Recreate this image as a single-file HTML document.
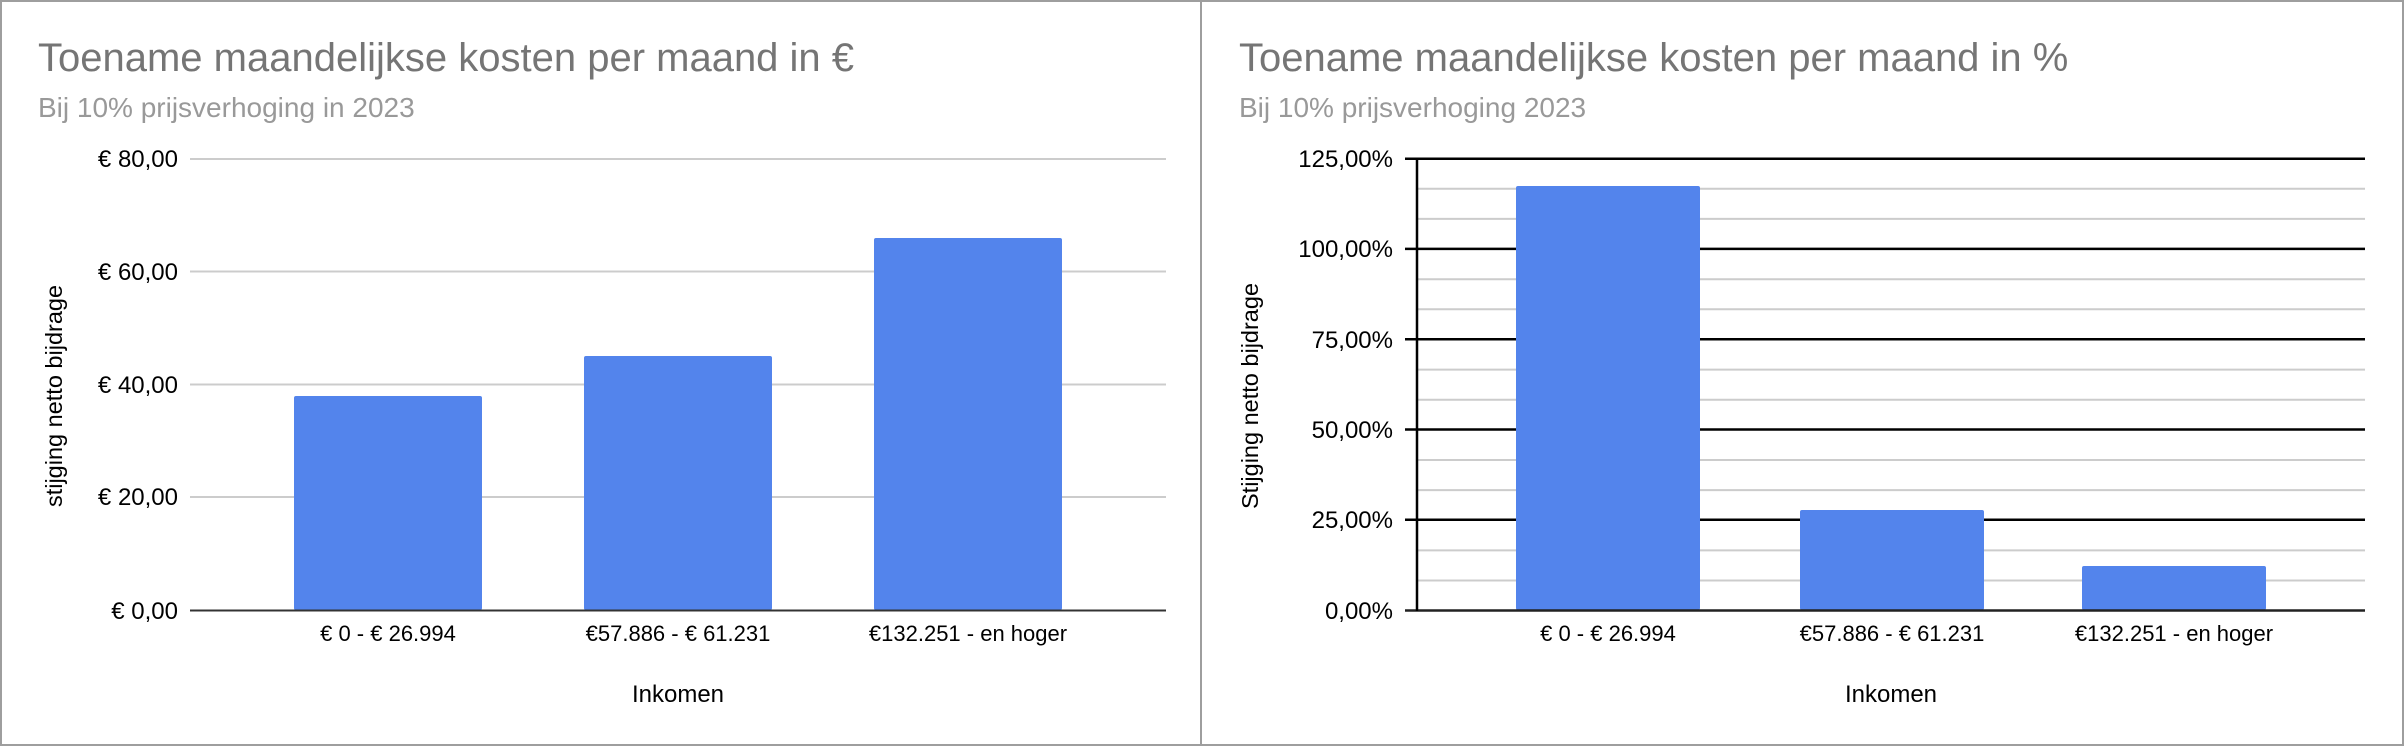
<!DOCTYPE html>
<html><head><meta charset="utf-8"><style>
html,body{margin:0;padding:0;background:#fff}
svg{display:block}
text{font-family:"Liberation Sans",Arial,sans-serif}
</style></head><body>
<svg width="2404" height="746" viewBox="0 0 2404 746" xmlns="http://www.w3.org/2000/svg">
<rect x="1" y="1" width="2402" height="744" fill="#fff" stroke="#9e9e9e" stroke-width="2"/>
<line x1="1201" y1="0" x2="1201" y2="746" stroke="#9e9e9e" stroke-width="2"/>

<!-- LEFT CHART -->
<text x="38" y="71" font-size="40" fill="#757575">Toename maandelijkse kosten per maand in €</text>
<text x="38" y="117" font-size="28" fill="#999">Bij 10% prijsverhoging in 2023</text>
<g stroke="#cccccc" stroke-width="2">
<line x1="190" y1="159" x2="1166" y2="159"/>
<line x1="190" y1="271.5" x2="1166" y2="271.5"/>
<line x1="190" y1="384.5" x2="1166" y2="384.5"/>
<line x1="190" y1="497" x2="1166" y2="497"/>
</g>
<g fill="#5384ec">
<rect x="294" y="396" width="188" height="214" rx="2"/>
<rect x="584" y="356" width="188" height="254" rx="2"/>
<rect x="874" y="238" width="188" height="372" rx="2"/>
</g>
<line x1="190" y1="610.5" x2="1166" y2="610.5" stroke="#333" stroke-width="2"/>
<g font-size="24" fill="#000" text-anchor="end">
<text x="178" y="167">€ 80,00</text>
<text x="178" y="280">€ 60,00</text>
<text x="178" y="393">€ 40,00</text>
<text x="178" y="505">€ 20,00</text>
<text x="178" y="619">€ 0,00</text>
</g>
<g font-size="22" fill="#000" text-anchor="middle">
<text x="388" y="641">€ 0 - € 26.994</text>
<text x="678" y="641">€57.886 - € 61.231</text>
<text x="968" y="641">€132.251 - en hoger</text>
</g>
<text x="678" y="702" font-size="24" fill="#000" text-anchor="middle">Inkomen</text>
<text transform="translate(62,396) rotate(-90)" font-size="23.5" fill="#000" text-anchor="middle">stijging netto bijdrage</text>

<!-- RIGHT CHART -->
<text x="1239" y="71" font-size="40" fill="#757575">Toename maandelijkse kosten per maand in %</text>
<text x="1239" y="117" font-size="28" fill="#999">Bij 10% prijsverhoging 2023</text>
<g stroke="#cccccc" stroke-width="2">
<line x1="1417" y1="188.8" x2="2365" y2="188.8"/>
<line x1="1417" y1="218.9" x2="2365" y2="218.9"/>
<line x1="1417" y1="279.2" x2="2365" y2="279.2"/>
<line x1="1417" y1="309.3" x2="2365" y2="309.3"/>
<line x1="1417" y1="369.6" x2="2365" y2="369.6"/>
<line x1="1417" y1="399.7" x2="2365" y2="399.7"/>
<line x1="1417" y1="460" x2="2365" y2="460"/>
<line x1="1417" y1="490.1" x2="2365" y2="490.1"/>
<line x1="1417" y1="550.4" x2="2365" y2="550.4"/>
<line x1="1417" y1="580.5" x2="2365" y2="580.5"/>
</g>
<g stroke="#000" stroke-width="2.5">
<line x1="1405" y1="158.7" x2="2365" y2="158.7"/>
<line x1="1405" y1="248.9" x2="2365" y2="248.9"/>
<line x1="1405" y1="339.2" x2="2365" y2="339.2"/>
<line x1="1405" y1="429.5" x2="2365" y2="429.5"/>
<line x1="1405" y1="519.8" x2="2365" y2="519.8"/>
</g>
<g fill="#5384ec">
<rect x="1516" y="186" width="184" height="424" rx="2"/>
<rect x="1800" y="510" width="184" height="100" rx="2"/>
<rect x="2082" y="566" width="184" height="44" rx="2"/>
</g>
<line x1="1405" y1="610.5" x2="2365" y2="610.5" stroke="#222" stroke-width="2.5"/>
<line x1="1417" y1="158" x2="1417" y2="611" stroke="#000" stroke-width="2.5"/>
<g font-size="24" fill="#000" text-anchor="end">
<text x="1393" y="167">125,00%</text>
<text x="1393" y="257">100,00%</text>
<text x="1393" y="348">75,00%</text>
<text x="1393" y="438">50,00%</text>
<text x="1393" y="528">25,00%</text>
<text x="1393" y="619">0,00%</text>
</g>
<g font-size="22" fill="#000" text-anchor="middle">
<text x="1608" y="641">€ 0 - € 26.994</text>
<text x="1892" y="641">€57.886 - € 61.231</text>
<text x="2174" y="641">€132.251 - en hoger</text>
</g>
<text x="1891" y="702" font-size="24" fill="#000" text-anchor="middle">Inkomen</text>
<text transform="translate(1258,396) rotate(-90)" font-size="23.5" fill="#000" text-anchor="middle">Stijging netto bijdrage</text>
</svg>
</body></html>
